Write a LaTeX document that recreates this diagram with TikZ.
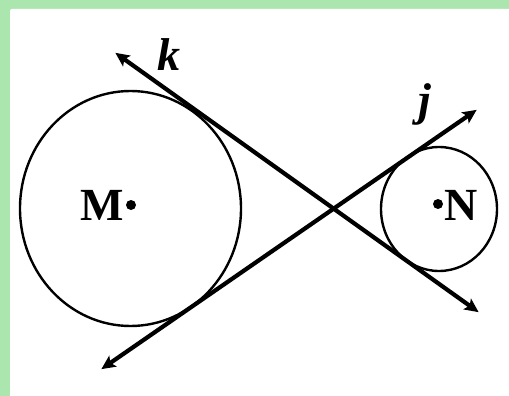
\documentclass[tikz,border=0pt]{standalone}
\usepackage{fontspec}
\setmainfont{Liberation Serif}
\usetikzlibrary{arrows.meta,shapes.geometric}
\definecolor{bordergreen}{RGB}{172,230,175}
\tikzset{
  circ/.style={draw=black, line width=2.4pt, ellipse, inner sep=0pt},
  tline/.style={draw=black, line width=4.2pt, {Stealth[length=14pt,width=13pt,inset=3pt]}-{Stealth[length=14pt,width=13pt,inset=3pt]}, shorten <=-2pt, shorten >=-2pt},
  lbl/.style={font=\fontsize{46}{50}\selectfont\bfseries, inner sep=0pt},
  ctr/.style={circle, fill=black, minimum size=10pt, inner sep=0pt}
}
\begin{document}
\begin{tikzpicture}[x=1pt,y=-1pt]
\useasboundingbox (0,0) rectangle (509,396);
\fill[bordergreen] (0,0) rectangle (509,396);
\fill[white, rounded corners=2pt] (10,9) rectangle (511,398);
\node[circ, minimum width=221pt, minimum height=235pt] (M) at (130.5,208.5) {};
\node[circ, minimum width=116pt, minimum height=124pt] (N) at (439,209) {};
\node[ctr] (Mc) at (131,205) {};
\node[ctr] (Nc) at (438,204) {};
\node[lbl, anchor=east] (Ml) at (124,205) {M};
\node[lbl, anchor=west] (Nl) at (444,205) {N};
\coordinate (k1) at (117,54);
\coordinate (k2) at (477,311);
\coordinate (j1) at (103,368);
\coordinate (j2) at (475,111);
\draw[tline] (k1) -- (k2);
\draw[tline] (j1) -- (j2);
\node[lbl, font=\fontsize{46}{50}\selectfont\bfseries\itshape] (kl) at (169,55) {k};
\node[lbl, font=\fontsize{46}{50}\selectfont\bfseries\itshape] (jl) at (425,104) {j};
\end{tikzpicture}
\end{document}
